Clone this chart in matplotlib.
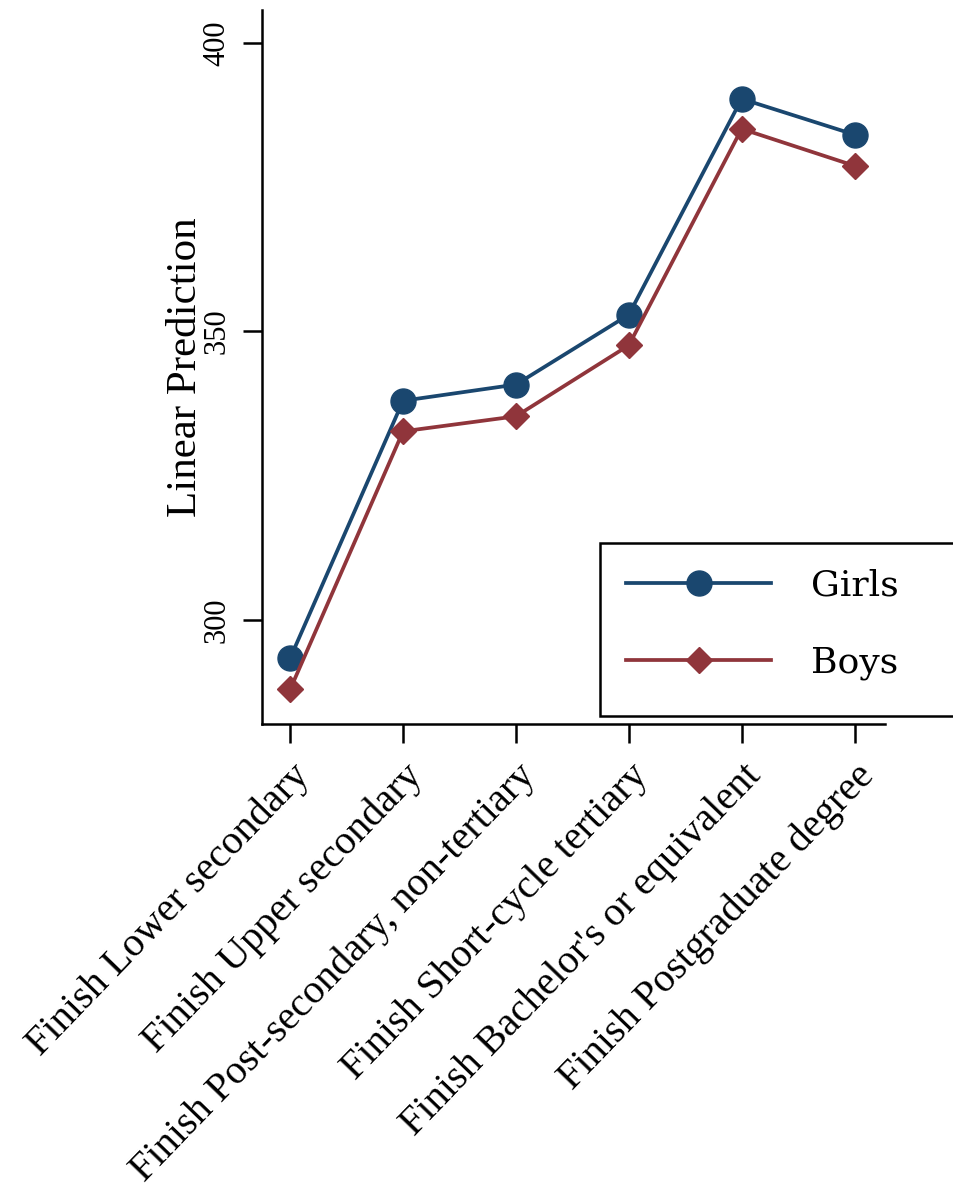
import matplotlib.pyplot as plt
from matplotlib.patches import Rectangle

# Linear predictions by parental education level
categories = ['Finish Lower secondary', 'Finish Upper secondary',
              'Finish Post-secondary, non-tertiary', 'Finish Short-cycle tertiary',
              "Finish Bachelor's or equivalent", 'Finish Postgraduate degree']
girls = [293.4, 338.0, 340.8, 352.9, 390.3, 384.1]
boys = [288.0, 332.7, 335.3, 347.6, 385.1, 378.7]
yticks = [300, 350, 400]

navy = '#1a476f'
maroon = '#90353b'
serif = 'Liberation Serif'

plt.rcParams['font.family'] = [serif, 'DejaVu Serif']

fig = plt.figure(figsize=(9.54, 12.01), dpi=100)
ax = fig.add_axes([0.2746, 0.3972, 0.6531, 0.5945])

x = list(range(len(categories)))
ax.plot(x, girls, color=navy, lw=2.7, marker='o', ms=18, label='Girls')
ax.plot(x, boys, color=maroon, lw=2.7, marker='D', ms=13, label='Boys')

ax.set_xlim(-0.25, 5.27)
ax.set_ylim(282, 405.7)
ax.set_yticks(yticks)
ax.set_yticklabels([str(t) for t in yticks], rotation=90, va='center',
                   fontsize=22, family=serif)
ax.set_xticks(x)
ax.set_xticklabels(categories, rotation=46, ha='right', va='top',
                   rotation_mode='anchor', fontsize=29, family=serif)
ax.tick_params(axis='both', length=14, width=1.8, color='black')
ax.tick_params(axis='y', pad=8)
ax.tick_params(axis='x', pad=10)
ax.set_ylabel('Linear Prediction', fontsize=31, labelpad=-2, family=serif)

for side in ['top', 'right']:
    ax.spines[side].set_visible(False)
for side in ['left', 'bottom']:
    ax.spines[side].set_linewidth(1.8)

# legend box, runs off the right edge as in the original
fig.patches.append(Rectangle((600 / 954, 1 - 716 / 1201), 400 / 954, 173 / 1201,
                             transform=fig.transFigure, fill=True, facecolor='white',
                             edgecolor='black', lw=1.8, zorder=5))
leg = fig.legend(loc='upper left', bbox_to_anchor=(612 / 954, 1 - 554 / 1201),
                 frameon=False, prop={'family': 'DejaVu Serif', 'size': 26},
                 handlelength=4.0, handletextpad=1.1,
                 labelspacing=1.2, borderaxespad=0)
leg.set_zorder(6)

fig.savefig('out.png', dpi=100)
